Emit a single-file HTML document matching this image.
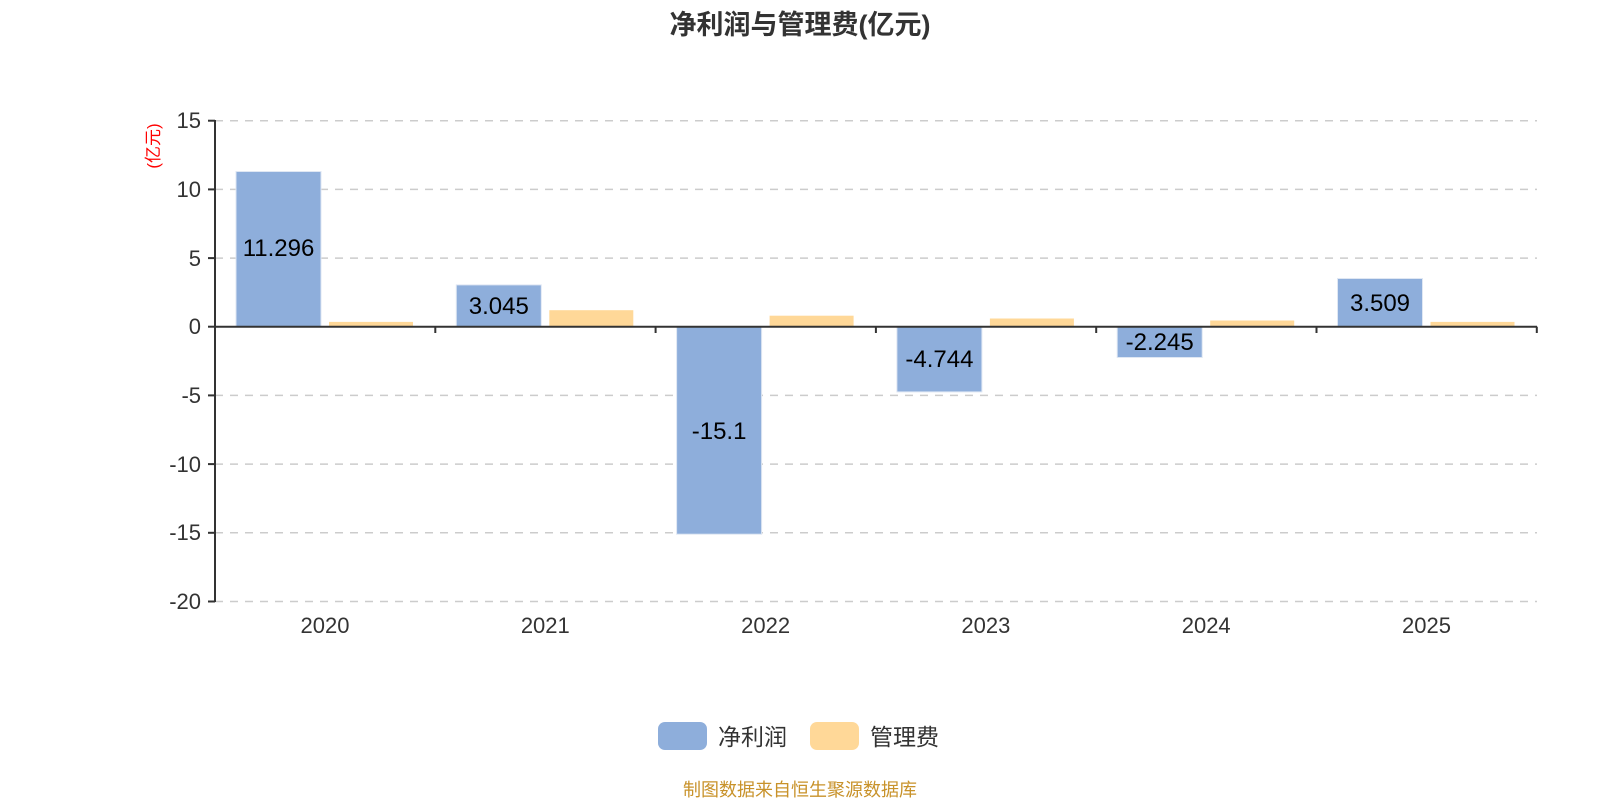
<!DOCTYPE html>
<html><head><meta charset="utf-8"><style>
html,body{margin:0;padding:0;background:#fff;}
svg{display:block;font-family:"Liberation Sans","Noto Sans CJK SC",sans-serif;}
</style></head><body>
<svg width="1600" height="800" viewBox="0 0 1600 800" xmlns="http://www.w3.org/2000/svg">
<text x="800" y="34" text-anchor="middle" font-size="27" font-weight="bold" fill="#333">净利润与管理费(亿元)</text>
<text transform="translate(159,146) rotate(-90)" text-anchor="middle" font-size="17" fill="#f00">(亿元)</text>
<g stroke="#ccc" stroke-width="1.5" stroke-dasharray="8,7">
<line x1="215" x2="1537" y1="120.7" y2="120.7"/>
<line x1="215" x2="1537" y1="189.4" y2="189.4"/>
<line x1="215" x2="1537" y1="258.1" y2="258.1"/>
<line x1="215" x2="1537" y1="395.4" y2="395.4"/>
<line x1="215" x2="1537" y1="464.1" y2="464.1"/>
<line x1="215" x2="1537" y1="532.8" y2="532.8"/>
<line x1="215" x2="1537" y1="601.5" y2="601.5"/>
</g>
<g font-size="22" fill="#333" text-anchor="end">
<text x="201" y="128">15</text>
<text x="201" y="197">10</text>
<text x="201" y="266">5</text>
<text x="201" y="334">0</text>
<text x="201" y="403">-5</text>
<text x="201" y="472">-10</text>
<text x="201" y="540">-15</text>
<text x="201" y="609">-20</text>
</g>
<g fill="#8eaedb" stroke="#dfe7f3" stroke-width="1">
<rect x="236" y="171.5" width="85" height="155.2"/>
<rect x="456.3" y="284.9" width="85" height="41.8"/>
<rect x="676.6" y="326.7" width="85" height="207.5"/>
<rect x="896.9" y="326.7" width="85" height="65.2"/>
<rect x="1117.2" y="326.7" width="85" height="30.8"/>
<rect x="1337.5" y="278.5" width="85" height="48.2"/>
</g>
<g fill="#ffd898">
<rect x="329" y="321.9" width="84" height="4.8"/>
<rect x="549.3" y="310.2" width="84" height="16.5"/>
<rect x="769.6" y="315.7" width="84" height="11"/>
<rect x="989.9" y="318.5" width="84" height="8.2"/>
<rect x="1210.2" y="320.5" width="84" height="6.2"/>
<rect x="1430.5" y="321.9" width="84" height="4.8"/>
</g>
<g stroke="#333" stroke-width="2" fill="none">
<line x1="215" y1="120" x2="215" y2="602"/>
<line x1="208" y1="120.7" x2="215" y2="120.7"/><line x1="208" y1="189.4" x2="215" y2="189.4"/><line x1="208" y1="258.1" x2="215" y2="258.1"/><line x1="208" y1="326.7" x2="215" y2="326.7"/><line x1="208" y1="395.4" x2="215" y2="395.4"/><line x1="208" y1="464.1" x2="215" y2="464.1"/><line x1="208" y1="532.8" x2="215" y2="532.8"/><line x1="208" y1="601.5" x2="215" y2="601.5"/>
<line x1="215" y1="326.7" x2="1537" y2="326.7"/>
<line x1="435.3" y1="326.7" x2="435.3" y2="333"/><line x1="655.6" y1="326.7" x2="655.6" y2="333"/><line x1="875.9" y1="326.7" x2="875.9" y2="333"/><line x1="1096.2" y1="326.7" x2="1096.2" y2="333"/><line x1="1316.5" y1="326.7" x2="1316.5" y2="333"/><line x1="1536.8" y1="326.7" x2="1536.8" y2="333"/>
</g>
<g font-size="24" fill="#000" text-anchor="middle">
<text x="278.5" y="256">11.296</text>
<text x="498.8" y="314">3.045</text>
<text x="719.1" y="439">-15.1</text>
<text x="939.4" y="367">-4.744</text>
<text x="1159.7" y="350">-2.245</text>
<text x="1380" y="311">3.509</text>
</g>
<g font-size="22" fill="#333" text-anchor="middle">
<text x="325" y="633">2020</text>
<text x="545.3" y="633">2021</text>
<text x="765.6" y="633">2022</text>
<text x="985.9" y="633">2023</text>
<text x="1206.2" y="633">2024</text>
<text x="1426.5" y="633">2025</text>
</g>
<rect x="658" y="722" width="49" height="28" rx="7" fill="#8eaedb"/>
<text x="718" y="745" font-size="23" fill="#333">净利润</text>
<rect x="810" y="722" width="49" height="28" rx="7" fill="#ffd898"/>
<text x="870" y="745" font-size="23" fill="#333">管理费</text>
<text x="800" y="796" text-anchor="middle" font-size="18" fill="#c8922a">制图数据来自恒生聚源数据库</text>
</svg>
</body></html>
